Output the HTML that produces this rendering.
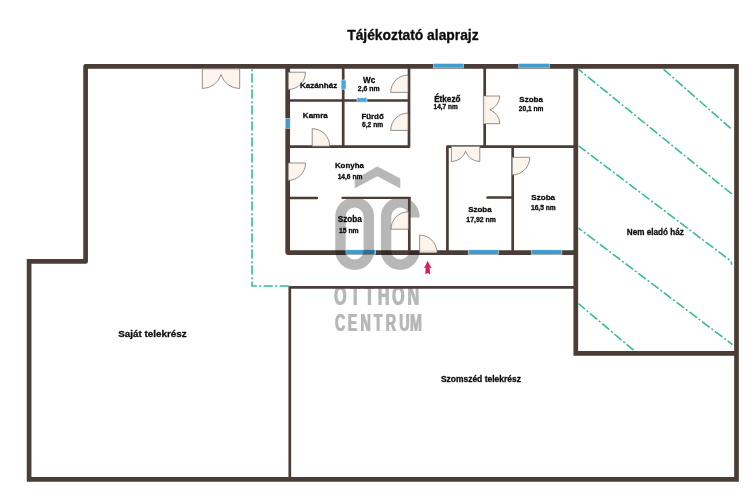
<!DOCTYPE html>
<html lang="hu"><head><meta charset="utf-8"><title>Tájékoztató alaprajz</title>
<style>
html,body{margin:0;padding:0;background:#fff;}
body{width:756px;height:500px;overflow:hidden;}
svg{display:block;}
text{font-family:"Liberation Sans",sans-serif;font-weight:bold;fill:#0d0d0d;text-anchor:middle;}
.t{font-size:13.2px;}
.r{font-size:7.6px;}
.n{font-size:6.4px;}
.b{font-size:7.6px;}
.wall{fill:none;stroke:#4a3c36;stroke-linejoin:round;}
.door{fill:#fdf4ec;stroke:#6e6e6e;stroke-width:.75;stroke-linejoin:round;}
.teal{fill:none;stroke:#30bc98;stroke-width:1.55;stroke-dasharray:9.4 2.3 2 2.3;}
</style></head><body>
<svg width="756" height="500" viewBox="0 0 756 500">
<rect width="756" height="500" fill="#fff"/>

<g class="teal">
<path d="M252 68.6V286H289" stroke-dasharray="9.2 2.4 2 2.4" stroke-dashoffset="11"/>
<path d="M663.6 69.3L730.8 128.5" stroke-dashoffset="0"/>
<path d="M578.5 69.3L732.7 194.7" stroke-dashoffset="3.9"/>
<path d="M578.5 145.8L729.9 260.3Q731.7 261.3 731.6 264.8" stroke-dashoffset="0.5"/>
<path d="M578.5 228.1L732.5 344.6" stroke-dashoffset="5.0"/>
<path d="M578.5 303.6L633.5 350.2" stroke-dashoffset="1.0"/>
</g>
<g class="wall" stroke-width="4.7">
<path d="M736.5 66.4H85.6V261.4H29.1"/>
<path d="M29.1 261.4V479.35H736.5V66.4" stroke-linejoin="miter" stroke-linecap="square"/>
<path d="M575.8 66.4V353.4H736.5" stroke-linejoin="miter"/>
<path d="M287.7 66.4V252.6H575.8"/>
</g>
<rect x="433.3" y="63.4" width="30.1" height="4.6" rx="0" fill="#419bcd" stroke="#fff" stroke-width=".5"/>
<rect x="518.8" y="63.4" width="30.6" height="4.6" rx="0" fill="#419bcd" stroke="#fff" stroke-width=".5"/>
<rect x="285.4" y="118.6" width="4.8" height="9.6" rx="0" fill="#419bcd" stroke="#fff" stroke-width=".5"/>
<rect x="345.9" y="249.8" width="29.8" height="4.6" rx="0" fill="#419bcd" stroke="#fff" stroke-width=".5"/>
<rect x="468.2" y="249.8" width="30.2" height="4.6" rx="0" fill="#419bcd" stroke="#fff" stroke-width=".5"/>
<rect x="531.6" y="249.8" width="30.3" height="4.6" rx="0" fill="#419bcd" stroke="#fff" stroke-width=".5"/>
<g opacity=".28" style="filter:grayscale(1)">
<path d="M355 179.6L377.2 166.7L400 178.6V187.9L377.2 175.9L355 187.9Z" fill="#000" stroke="#000" stroke-width=".6" stroke-linejoin="round"/>
<rect x="340.5" y="202.4" width="28.3" height="62.3" rx="14.15" ry="14.15" fill="none" stroke="#000" stroke-width="10.4"/>
<path d="M414.4 217.6V216.55A14.15 14.15 0 0 0 386.1 216.55V250.55A14.15 14.15 0 0 0 414.4 250.55" fill="none" stroke="#000" stroke-width="10.4"/>
<g style="filter:drop-shadow(1.1px 0 0 #000)"><text transform="scale(0.58 1)" x="574.93 603.10 627.58 650.61 674.93 701.56" y="305.5" font-size="28" style="fill:#000;stroke:none;text-anchor:start">OTTHON</text></g>
<g style="filter:drop-shadow(1.0px 0 0 #000)"><text transform="scale(0.6 1)" x="557.42 578.56 599.93 622.07 642.06 664.52 682.37" y="331" font-size="23.8" style="fill:#000;stroke:none;text-anchor:start">CENTRUM</text></g>
</g>
<g class="wall" stroke-width="2.7">
<path d="M289.8 479.3V287.3H574"/>
<path d="M343.2 66.5V146.7"/>
<path d="M288 100.5H409"/>
<path d="M409 66.5V146.7H288"/>
<path d="M288 198H316.9" stroke-linecap="round" stroke-width="2.4"/>
<path d="M341.6 197.85H410.4" stroke-width="2.1"/>
<path d="M409.3 197V252"/>
<path d="M447.4 252V146.6H576"/>
<path d="M484.7 66.5V146.6"/>
<path d="M512.7 146.6V252"/>
<path d="M487.6 197.5H512.7" stroke-linecap="round"/>
</g>
<rect x="341.1" y="79.9" width="4.9" height="9.4" rx="0.8" fill="#4aa6dc" stroke="#fff" stroke-width=".5"/>
<rect x="357" y="97.7" width="10" height="4.5" rx="0.8" fill="#4aa6dc" stroke="#fff" stroke-width=".5"/>
<path class="door" d="M288.2 72.2L305.5 72.2A17.3 17.3 0 0 1 288.2 89.5Z"/>
<path class="door" d="M408.0 92.4L390.7 92.4A17.3 17.3 0 0 1 408.0 75.10000000000001Z"/>
<path class="door" d="M408.0 130.4L390.7 130.4A17.3 17.3 0 0 1 408.0 113.10000000000001Z"/>
<path class="door" d="M312.2 146.2L329.7 146.2A17.5 17.5 0 0 0 312.2 128.7Z"/>
<path class="door" d="M288.2 163L305.59999999999997 163A17.4 17.4 0 0 1 288.2 180.4Z"/>
<path class="door" d="M408.4 229.2L391.0 229.2A17.4 17.4 0 0 1 408.4 211.79999999999998Z"/>
<path class="door" d="M419.6 252.4L436.90000000000003 252.4A17.3 17.3 0 0 0 419.6 235.1Z"/>
<rect x="420" y="250.3" width="16.6" height="2.2" fill="#e6dccf"/>
<path class="door" d="M512.2 157.3L529.8000000000001 157.3A17.6 17.6 0 0 1 512.2 174.9Z"/>
<path class="door" d="M202.3 68.8L202.3 88.5A19.5 19.5 0 0 0 221 74.7A19.5 19.5 0 0 0 239.7 88.5L239.7 68.8Z"/>
<path class="door" d="M451.4 146.3L451.4 161.5A15.1 15.1 0 0 0 465.6 151.3A15.1 15.1 0 0 0 479.8 161.5L479.8 146.3Z"/>
<path class="door" d="M483.4 96L499.8 96A15.2 15.2 0 0 1 490 109.85A15.2 15.2 0 0 1 499.8 123.7L483.4 123.7Z"/>
<rect x="483.8" y="96.4" width="2" height="26.9" fill="#f1e7dc"/>
<path d="M427.6 260.8Q429.4 265.2 431.9 267.9L429.7 267.5L430.1 274.3L427.6 273.1L425.2 274.3L425.7 267.5L423.8 267.9Q426 265.2 427.6 260.8Z" fill="#d81e55"/>
<g style="filter:grayscale(1)" stroke="#0d0d0d" stroke-width=".3" stroke-linejoin="round">
<text x="412.9" y="39.7" font-size="13.84">Tájékoztató alaprajz</text>
<text x="318.6" y="87.5" font-size="8.09">Kazánház</text>
<text x="369.1" y="82.5" font-size="8.14">Wc</text>
<text x="368.8" y="91.1" font-size="6.92">2,6 nm</text>
<text x="315.3" y="118.3" font-size="7.99">Kamra</text>
<text x="372.6" y="118.7" font-size="7.90">Fürdő</text>
<text x="372.6" y="126.7" font-size="6.63">6,2 nm</text>
<text x="447.3" y="101.9" font-size="8.19">Étkező</text>
<text x="445.6" y="109.2" font-size="6.48">14,7 nm</text>
<text x="531.1" y="101.9" font-size="7.99">Szoba</text>
<text x="531.1" y="110.8" font-size="6.58">20,1 nm</text>
<text x="349.4" y="168.1" font-size="7.90">Konyha</text>
<text x="350.0" y="178.7" font-size="6.63">14,6 nm</text>
<text x="349.8" y="221.6" font-size="8.19">Szoba</text>
<text x="348.8" y="232.6" font-size="6.83">15 nm</text>
<text x="479.9" y="211.7" font-size="7.99">Szoba</text>
<text x="481.1" y="221.8" font-size="6.92">17,92 nm</text>
<text x="543.2" y="200.1" font-size="8.09">Szoba</text>
<text x="543.3" y="210.4" font-size="6.63">16,5 nm</text>
<text x="655.3" y="234.55" font-size="8.14">Nem eladó ház</text>
<text x="152.4" y="336.5" font-size="9.85">Saját telekrész</text>
<text x="480.9" y="381.6" font-size="8.48">Szomszéd telekrész</text>
</g>
</svg></body></html>
